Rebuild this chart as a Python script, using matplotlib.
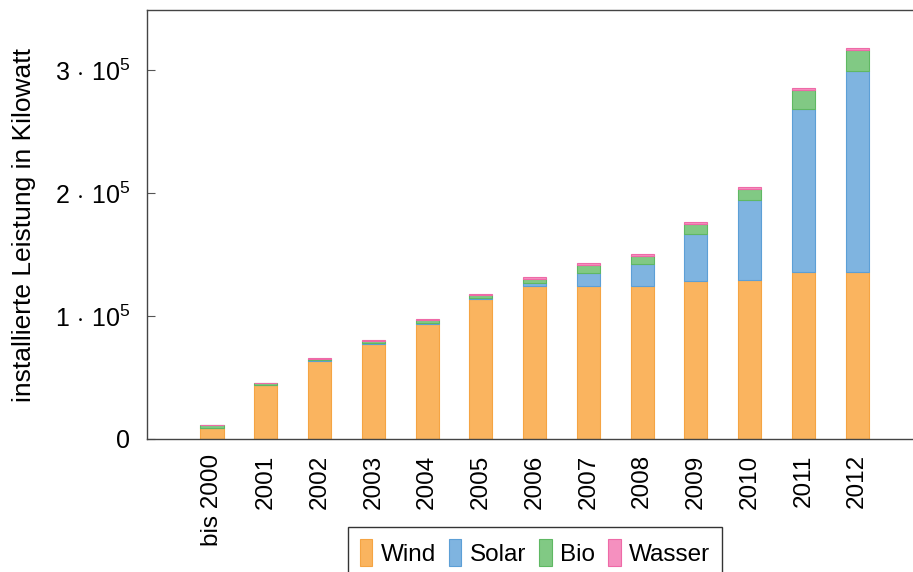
import matplotlib
matplotlib.use('Agg')
import matplotlib.pyplot as plt
import numpy as np
from matplotlib.ticker import FuncFormatter

plt.rcParams['font.family'] = ['Liberation Sans', 'DejaVu Sans']
plt.rcParams['mathtext.fontset'] = 'custom'
plt.rcParams['mathtext.rm'] = 'Liberation Sans'
plt.rcParams['mathtext.it'] = 'Liberation Sans:italic'

years = ['bis 2000', '2001', '2002', '2003', '2004', '2005', '2006',
         '2007', '2008', '2009', '2010', '2011', '2012']
wind = [9200, 43900, 63700, 77500, 93800, 113600, 124700,
        124400, 124400, 128500, 129300, 135500, 135500]
solar = [100, 100, 200, 300, 400, 1000, 1900,
         10800, 17600, 38200, 65000, 132500, 163700]
bio = [1800, 1400, 1400, 1800, 2200, 2200, 3400,
       6500, 7000, 8300, 9000, 15700, 17100]
wasser = [400, 500, 800, 1000, 800, 1300, 1700,
          1400, 1100, 1200, 1600, 1700, 1600]

series = [('Wind', wind, '#fab45f', '#f5a443'),
          ('Solar', solar, '#7fb4e0', '#5c9fd6'),
          ('Bio', bio, '#81c984', '#5fb863'),
          ('Wasser', wasser, '#f590bf', '#ee6aa7')]

fig = plt.figure(figsize=(9.13, 5.72), dpi=100)
ax = fig.add_axes([147/913, 133/572, 766/913, 429/572])

x = np.arange(len(years))
bottom = np.zeros(len(years))
for name, vals, fc, ec in series:
    ax.bar(x, vals, 0.43, bottom=bottom, color=fc, edgecolor=ec,
           linewidth=0.8, label=name)
    bottom += np.array(vals)

ax.set_xlim(-1.21, 13.04)
ax.set_ylim(0, 348800)
ax.set_xticks(x)
ax.set_xticklabels(years, rotation=90, fontsize=17.5)
ax.set_yticks([0, 100000, 200000, 300000])

def fmt(v, pos):
    if v == 0:
        return '0'
    return r'$%d\,\cdot\,10^{5}$' % round(v / 1e5)

ax.yaxis.set_major_formatter(FuncFormatter(fmt))
ax.tick_params(axis='y', direction='in', length=6, labelsize=18, pad=12,
               color='#555555')
ax.tick_params(axis='x', length=0, pad=11)
ax.set_ylabel('installierte Leistung in Kilowatt', fontsize=19)
ax.yaxis.set_label_coords(-111/766, 0.5)

ax.spines['right'].set_visible(False)
for s in ['left', 'bottom', 'top']:
    ax.spines[s].set_color('#444444')
    ax.spines[s].set_linewidth(1.0)

fig.legend(loc='upper center', bbox_to_anchor=(535/913, 1 - 527/572), ncol=4,
           fontsize=17.5, handlelength=0.5, handleheight=1.3, handletextpad=0.35,
           columnspacing=0.55, fancybox=False, edgecolor='#333333',
           framealpha=1, borderpad=0.5, borderaxespad=0)

fig.savefig('out.png', dpi=100)
